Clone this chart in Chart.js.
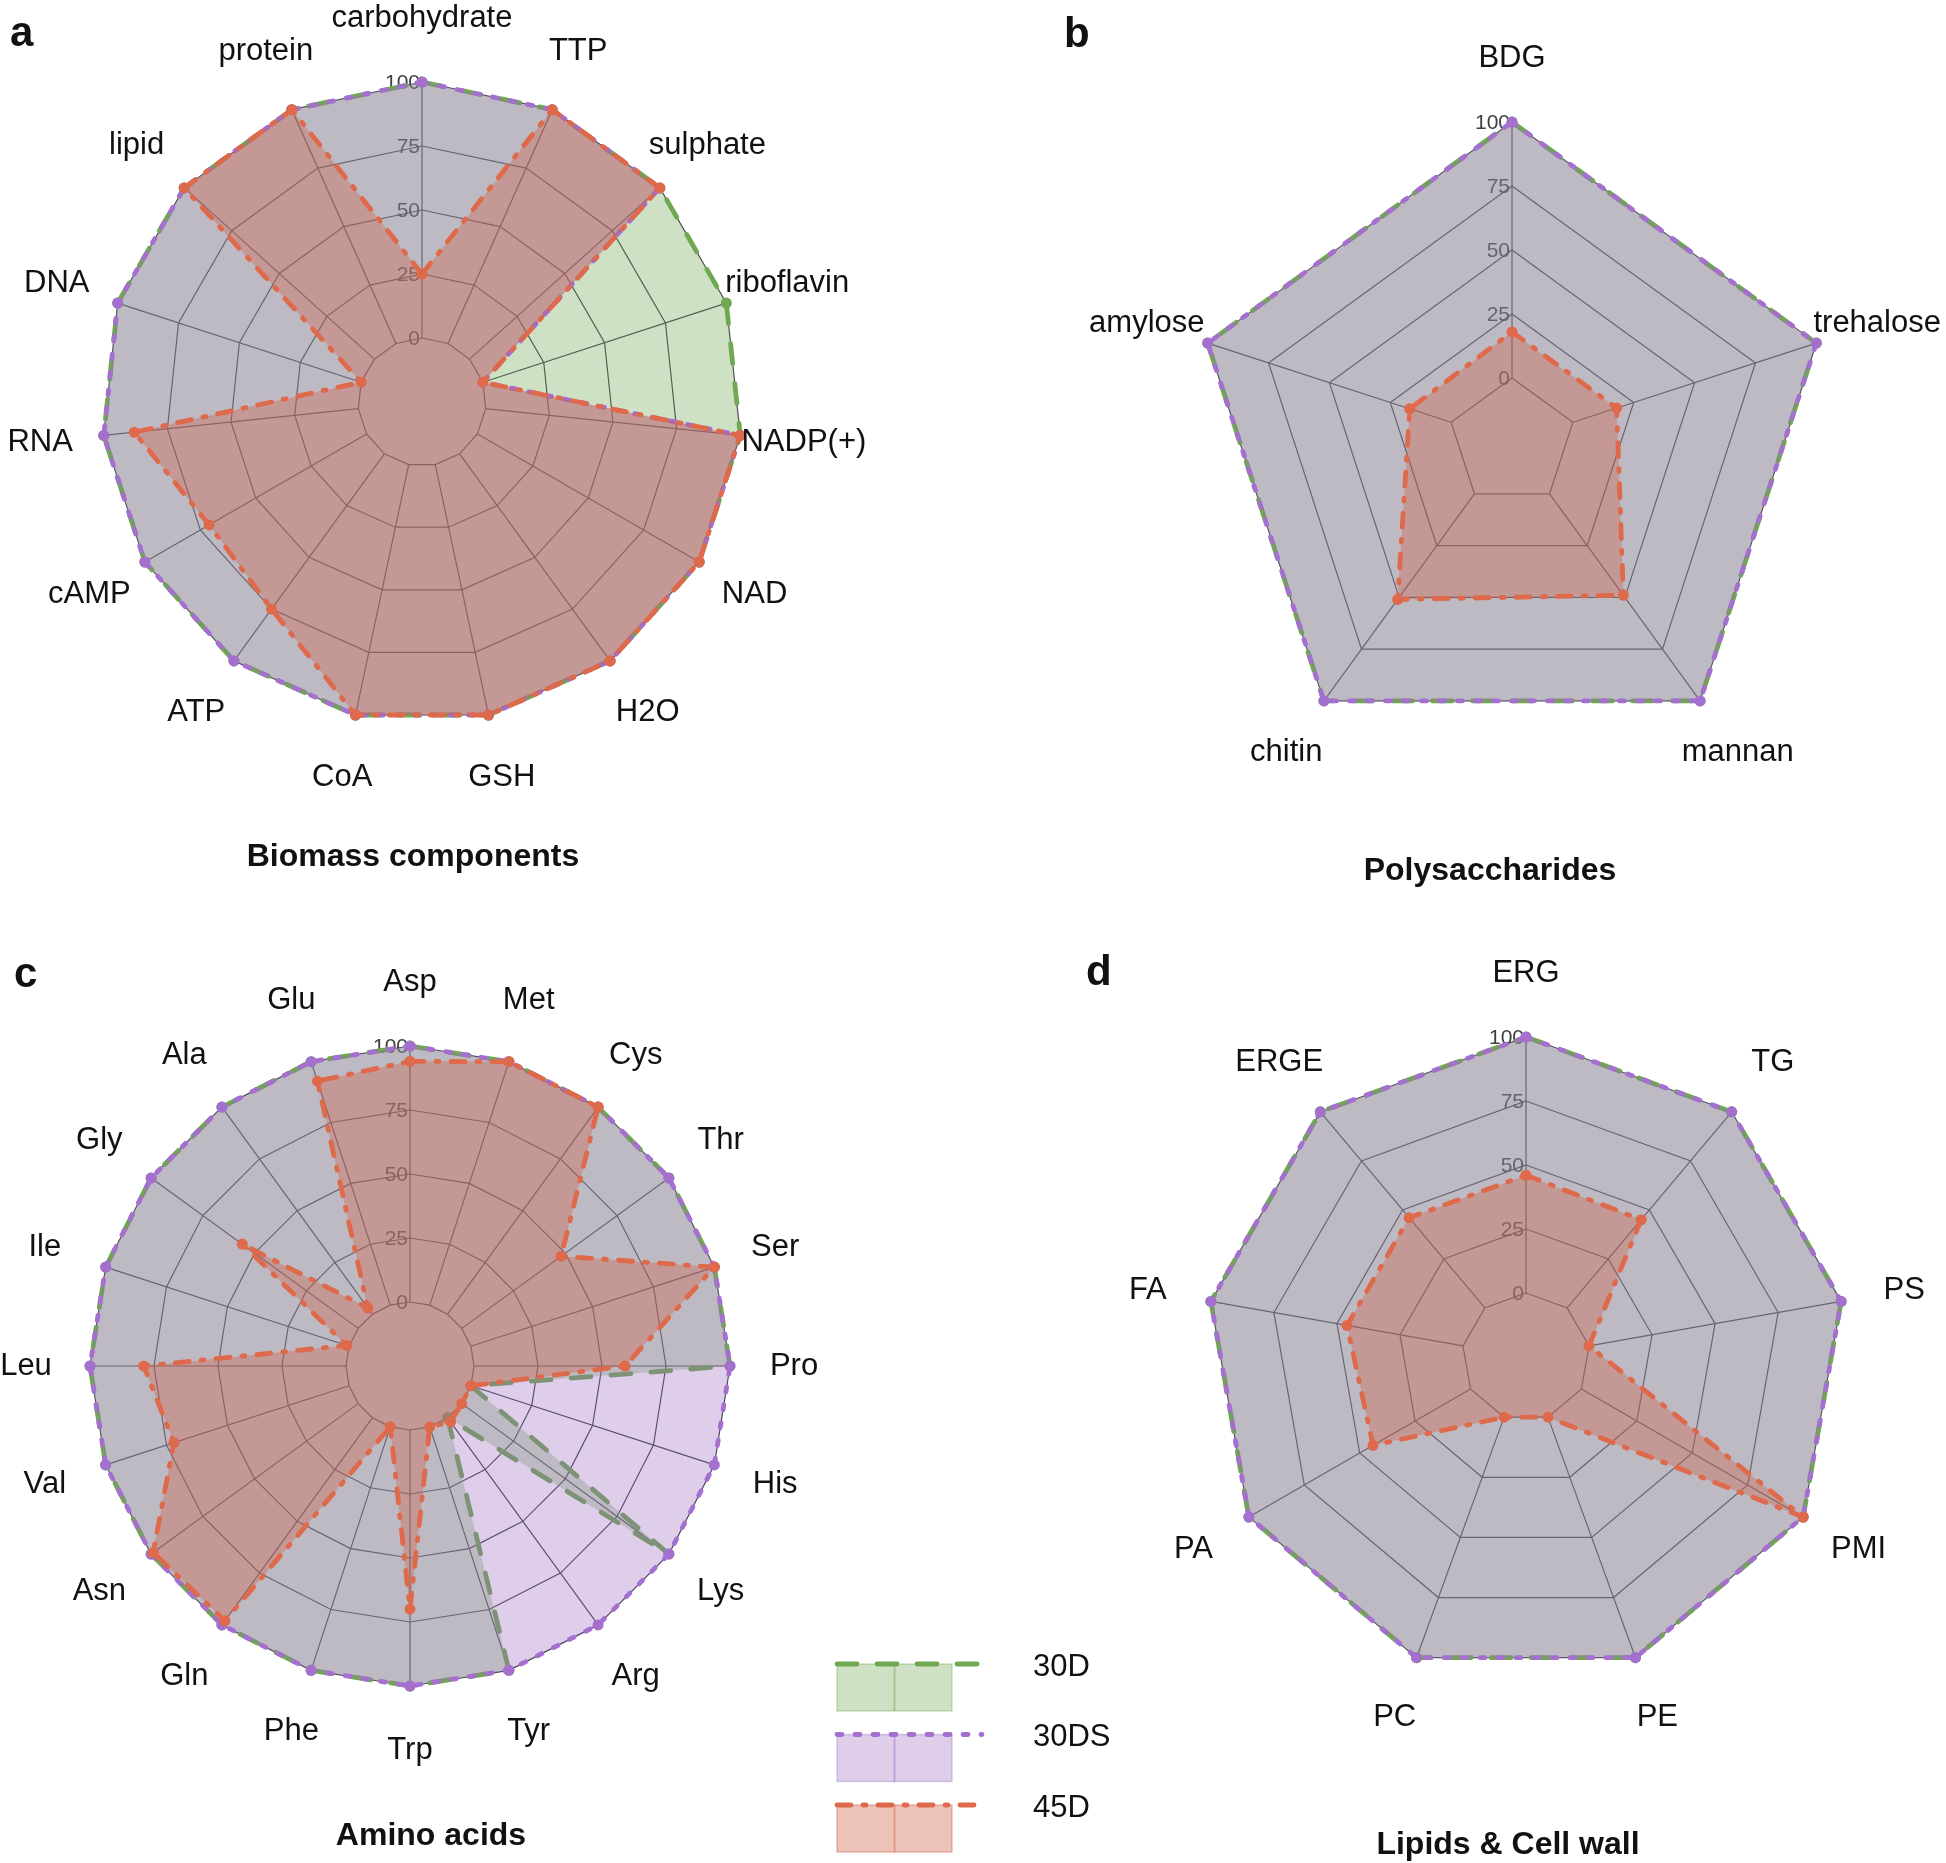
<!DOCTYPE html>
<html>
<head>
<meta charset="utf-8">
<title>Radar panels</title>
<script src="https://cdn.jsdelivr.net/npm/chart.js@4"></script>
<style>
  html, body { margin: 0; padding: 0; background: #fff; }
  #page { position: relative; width: 1946px; height: 1863px; overflow: hidden; }
  #page canvas { position: absolute; left: 0; top: 0; }
</style>
</head>
<body>
<div id="page">
  <canvas id="chartA" width="1946" height="1863"></canvas>
  <canvas id="chartB" width="1946" height="1863"></canvas>
  <canvas id="chartC" width="1946" height="1863"></canvas>
  <canvas id="chartD" width="1946" height="1863"></canvas>
</div>
<script>
// ---- data ----
const seriesNames = ['30D', '30DS', '45D'];
const tickValues = [0, 25, 50, 75, 100];

const biomassLabels = ['carbohydrate', 'TTP', 'sulphate', 'riboflavin', 'NADP(+)', 'NAD', 'H2O', 'GSH', 'CoA', 'ATP', 'cAMP', 'RNA', 'DNA', 'lipid', 'protein'];
const biomass30D  = [100, 100, 100, 100, 100, 100, 100, 100, 100, 100, 100, 100, 100, 100, 100];
const biomass30DS = [100, 100, 100, 0, 100, 100, 100, 100, 100, 100, 100, 100, 100, 100, 100];
const biomass45D  = [25, 100, 100, 0, 100, 100, 100, 100, 100, 75, 71, 88, 0, 100, 100];

const polyLabels = ['BDG', 'trehalose', 'mannan', 'chitin', 'amylose'];
const poly30D  = [100, 100, 100, 100, 100];
const poly30DS = [100, 100, 100, 100, 100];
const poly45D  = [18, 18, 49, 51, 17];

const aminoLabels = ['Asp', 'Met', 'Cys', 'Thr', 'Ser', 'Pro', 'His', 'Lys', 'Arg', 'Tyr', 'Trp', 'Phe', 'Gln', 'Asn', 'Val', 'Leu', 'Ile', 'Gly', 'Ala', 'Glu'];
const amino30D  = [100, 100, 100, 100, 100, 100, 0, 100, 0, 100, 100, 100, 100, 100, 100, 100, 100, 100, 100, 100];
const amino30DS = [100, 100, 100, 100, 100, 100, 100, 100, 100, 100, 100, 100, 100, 100, 100, 100, 100, 100, 100, 100];
const amino45D  = [94, 100, 100, 48, 100, 59, 0, 0, 2, 0, 70, 0, 98, 99, 72, 79, 1, 56, 3, 92];

const lipidLabels = ['ERG', 'TG', 'PS', 'PMI', 'PE', 'PC', 'PA', 'FA', 'ERGE'];
const lipid30D  = [100, 100, 100, 100, 100, 100, 100, 100, 100];
const lipid30DS = [100, 100, 100, 100, 100, 100, 100, 100, 100];
const lipid45D  = [46, 45, 0, 100, 0, 0, 44, 46, 46];

// ---- look ----
const FONT = '"Liberation Sans", Arial, sans-serif';
const W = 1946, H = 1863, R = 320;
const gridColor = 'rgb(66,64,78)';

const styles = {
  '30D':  { line: '#70a852', fill: 'rgba(110,165,80,0.33)', dash: [20, 20] },
  '30DS': { line: '#a46fcf', fill: 'rgba(155,105,190,0.33)', dash: [5, 13] },
  '45D':  { line: '#de6a4b', fill: 'rgba(205,95,70,0.38)', dash: [14, 12, 3, 12] }
};

function makeDatasets(values) {
  return seriesNames.map((name, i) => ({
    label: name,
    data: values[i],
    borderColor: styles[name].line,
    backgroundColor: styles[name].fill,
    borderWidth: 4.8,
    borderDash: styles[name].dash,
    borderCapStyle: 'round',
    borderJoinStyle: 'round',
    pointBackgroundColor: styles[name].line,
    pointBorderWidth: 0,
    pointRadius: 5.5,
    fill: 'start',
    order: 3 - i
  }));
}

// spokes + tick numbers under the fills, labels/titles on top
const panelPlugin = {
  id: 'panel',
  beforeDatasetsDraw(chart, args, opts) {
    const scale = chart.scales.r;
    const ctx = chart.ctx;
    const n = chart.data.labels.length;
    ctx.save();
    ctx.strokeStyle = gridColor;
    ctx.lineWidth = 1.2;
    for (let i = 0; i < n; i++) {
      const a = scale.getPointPositionForValue(i, 0);
      const b = scale.getPointPositionForValue(i, 100);
      ctx.beginPath();
      ctx.moveTo(a.x, a.y);
      ctx.lineTo(b.x, b.y);
      ctx.stroke();
    }
    ctx.fillStyle = '#3f3f3f';
    ctx.font = '21px ' + FONT;
    ctx.textAlign = 'right';
    ctx.textBaseline = 'middle';
    tickValues.forEach(v => {
      const p = scale.getPointPositionForValue(0, v);
      ctx.fillText(String(v), p.x - 2, p.y + 1);
    });
    ctx.restore();
  },
  afterDraw(chart, args, opts) {
    const scale = chart.scales.r;
    const ctx = chart.ctx;
    ctx.save();
    ctx.fillStyle = '#111';
    ctx.font = '31px ' + FONT;
    ctx.textAlign = 'center';
    ctx.textBaseline = 'middle';
    chart.data.labels.forEach((lab, i) => {
      const p = scale.getPointPositionForValue(i, 125);
      ctx.fillText(lab, p.x, p.y);
    });
    ctx.font = 'bold 32px ' + FONT;
    ctx.fillText(opts.title, opts.titleX, opts.titleY);
    ctx.font = 'bold 42px ' + FONT;
    ctx.textAlign = 'left';
    ctx.textBaseline = 'alphabetic';
    ctx.fillText(opts.letter, opts.letterX, opts.letterY);
    ctx.restore();
  }
};

const legendPlugin = {
  id: 'sharedLegend',
  afterDraw(chart, args, opts) {
    const ctx = chart.ctx;
    ctx.save();
    chart.data.datasets.forEach((ds, i) => {
      const y = opts.y + i * opts.rowGap;
      ctx.fillStyle = ds.backgroundColor;
      ctx.fillRect(opts.x, y, opts.boxW, opts.boxH);
      ctx.strokeStyle = ds.backgroundColor;
      ctx.lineWidth = 1.5;
      ctx.strokeRect(opts.x, y, opts.boxW, opts.boxH);
      ctx.globalAlpha = 0.45;
      ctx.strokeStyle = ds.borderColor;
      ctx.lineWidth = 2;
      ctx.beginPath();
      ctx.moveTo(opts.x + opts.boxW / 2, y);
      ctx.lineTo(opts.x + opts.boxW / 2, y + opts.boxH);
      ctx.stroke();
      ctx.globalAlpha = 1;
      ctx.setLineDash(ds.borderDash);
      ctx.lineCap = 'round';
      ctx.lineWidth = ds.borderWidth;
      ctx.beginPath();
      ctx.moveTo(opts.x, y);
      ctx.lineTo(opts.x + opts.lineW, y);
      ctx.stroke();
      ctx.setLineDash([]);
      ctx.fillStyle = '#111';
      ctx.font = '31px ' + FONT;
      ctx.textAlign = 'left';
      ctx.textBaseline = 'middle';
      ctx.fillText(ds.label, opts.textX, y + 3);
    });
    ctx.restore();
  }
};

function radarChart(id, labels, values, cx, cy, panel, extraPlugins, extraOpts) {
  const ctx = document.getElementById(id).getContext('2d');
  const pluginOpts = Object.assign({ legend: { display: false }, tooltip: { enabled: false }, panel: panel }, extraOpts || {});
  return new Chart(ctx, {
    type: 'radar',
    data: { labels: labels, datasets: makeDatasets(values) },
    options: {
      responsive: false,
      animation: false,
      layout: { padding: { left: cx - R, top: cy - R, right: W - cx - R, bottom: H - cy - R } },
      elements: { line: { tension: 0 } },
      scales: {
        r: {
          min: -25,
          max: 100,
          startAngle: 0,
          ticks: { display: false, stepSize: 25 },
          pointLabels: { display: false },
          angleLines: { display: false },
          grid: {
            color: c => (c.tick && c.tick.value < 0) ? 'rgba(0,0,0,0)' : gridColor,
            lineWidth: 1.2
          }
        }
      },
      plugins: pluginOpts
    },
    plugins: [panelPlugin].concat(extraPlugins || [])
  });
}

radarChart('chartA', biomassLabels, [biomass30D, biomass30DS, biomass45D], 422, 402,
  { title: 'Biomass components', titleX: 413, titleY: 857, letter: 'a', letterX: 10, letterY: 46 });

radarChart('chartB', polyLabels, [poly30D, poly30DS, poly45D], 1512, 442,
  { title: 'Polysaccharides', titleX: 1490, titleY: 871, letter: 'b', letterX: 1064, letterY: 47 });

radarChart('chartC', aminoLabels, [amino30D, amino30DS, amino45D], 410, 1366,
  { title: 'Amino acids', titleX: 431, titleY: 1836, letter: 'c', letterX: 14, letterY: 987 },
  [legendPlugin],
  { sharedLegend: { x: 837, y: 1664, rowGap: 70.5, boxW: 115, boxH: 47, lineW: 145, textX: 1033 } });

radarChart('chartD', lipidLabels, [lipid30D, lipid30DS, lipid45D], 1526, 1357,
  { title: 'Lipids & Cell wall', titleX: 1508, titleY: 1845, letter: 'd', letterX: 1086, letterY: 985 });
</script>
</body>
</html>
